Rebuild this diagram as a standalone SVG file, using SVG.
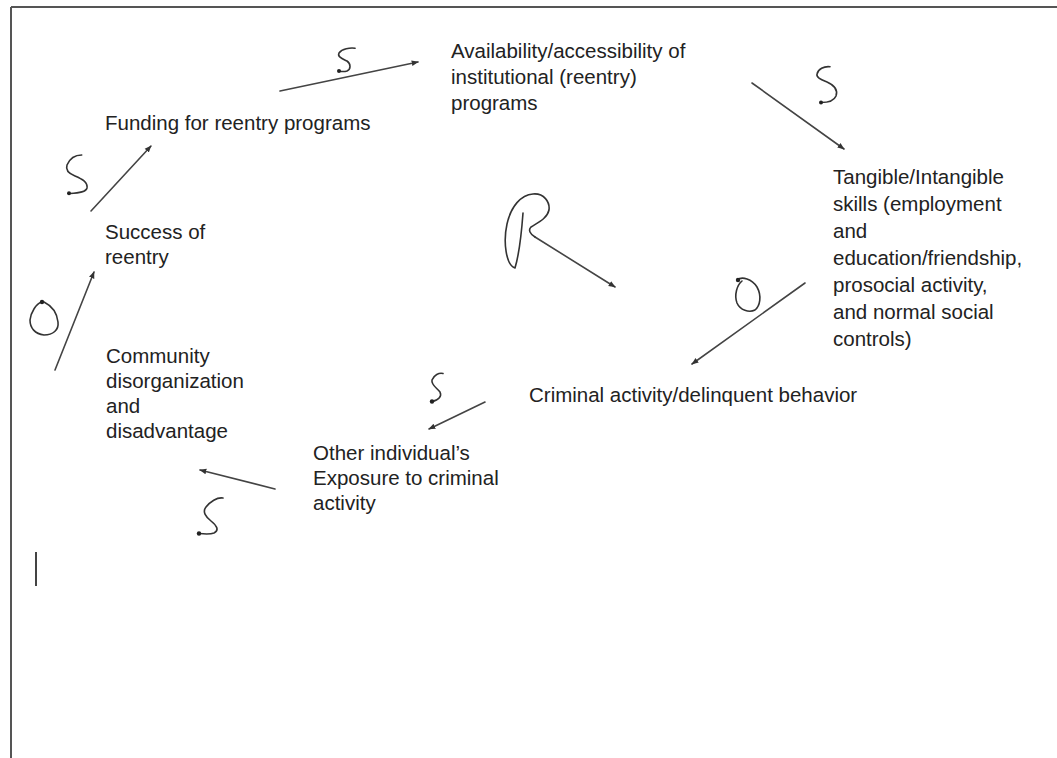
<svg xmlns="http://www.w3.org/2000/svg" width="1057" height="758" viewBox="0 0 1057 758">
<style>
text{font-family:"Liberation Sans",Arial,sans-serif;font-size:20.5px;fill:#222}
.c{fill:none;stroke:#444;stroke-width:1.6;stroke-linecap:round}
.h{fill:none;stroke:#333;stroke-width:1.6;stroke-linecap:round;stroke-linejoin:round}
.d{fill:#222}
</style>
<defs>
<marker id="ah" viewBox="0 0 10 10" refX="9" refY="5" markerWidth="7" markerHeight="7" markerUnits="userSpaceOnUse" orient="auto">
<path d="M0,1 L10,5 L0,9 Z" fill="#333"/>
</marker>
</defs>
<rect width="1057" height="758" fill="#fff"/>
<g id="frame">
<path d="M11,7 H1057 M11,7 V758" fill="none" stroke="#555" stroke-width="2"/>
<path d="M36,552 V586" stroke="#444" stroke-width="2"/>
</g>
<g id="availability">
<text x="451" y="58">Availability/accessibility of</text>
<text x="451" y="84">institutional (reentry)</text>
<text x="451" y="110">programs</text>
</g>
<g id="funding"><text x="105" y="130">Funding for reentry programs</text></g>
<g id="tangible">
<text x="833" y="184">Tangible/Intangible</text>
<text x="833" y="211">skills (employment</text>
<text x="833" y="238">and</text>
<text x="833" y="265">education/friendship,</text>
<text x="833" y="292">prosocial activity,</text>
<text x="833" y="319">and normal social</text>
<text x="833" y="346">controls)</text>
</g>
<g id="success">
<text x="105" y="239">Success of</text>
<text x="105" y="264">reentry</text>
</g>
<g id="community">
<text x="106" y="363">Community</text>
<text x="106" y="388">disorganization</text>
<text x="106" y="413">and</text>
<text x="106" y="438">disadvantage</text>
</g>
<g id="criminal"><text x="529" y="402">Criminal activity/delinquent behavior</text></g>
<g id="exposure">
<text x="313" y="460">Other individual’s</text>
<text x="313" y="485">Exposure to criminal</text>
<text x="313" y="510">activity</text>
</g>
<g id="connectors">
<line class="c" x1="91" y1="211" x2="151" y2="146" marker-end="url(#ah)"/>
<line class="c" x1="280" y1="91" x2="418" y2="62" marker-end="url(#ah)"/>
<line class="c" x1="752" y1="83" x2="844" y2="149" marker-end="url(#ah)"/>
<path class="c" d="M535,237 L615,287" marker-end="url(#ah)"/>
<line class="c" x1="805" y1="283" x2="692" y2="364" marker-end="url(#ah)"/>
<line class="c" x1="485" y1="402" x2="429" y2="429" marker-end="url(#ah)"/>
<line class="c" x1="275" y1="489" x2="200" y2="470" marker-end="url(#ah)"/>
<line class="c" x1="55" y1="370" x2="94" y2="272" marker-end="url(#ah)"/>
</g>
<g id="labels">
<path class="h" d="M81.7,155 C76,155 70,158 67,165 C65,171 70,174 75,176 C82,179 88,182 87,188 C86,192 80,193 70,193.5"/>
<circle class="d" cx="69" cy="193.3" r="2"/>
<path class="h" d="M355,48.3 C350,47.5 342,49 339,53 C337,57 343,59 347,61 C351,64 351,69 347,71 C344,72 341,71.5 339,71"/>
<circle class="d" cx="339" cy="71" r="2"/>
<path class="h" d="M830,66.7 C824,66 818,69 817,74 C816,78 822,80 827,82 C834,85 838,90 836,96 C834,101 828,102.5 821,102.5"/>
<circle class="d" cx="821" cy="102.5" r="2"/>
<path class="h" d="M523,213 C521,240 518,258 515,268 C506,265 503,242 507,224 C511,206 521,195 533,194 C544,193 550,202 549,210 C547,219 537,223 531,227 C528,230 530,234 535,237"/>
<path class="h" d="M737,280 C742,276 752,279 757,287 C762,296 760,306 755,310 C749,313 740,310 737,303 C734,295 737,285 742,281"/>
<circle class="d" cx="738" cy="280" r="2.2"/>
<path class="h" d="M443,373.5 C439,372.5 434,375 432,380 C431,385 437,388 440,392 C442,396 439,400 432,401.5"/>
<circle class="d" cx="432" cy="401.5" r="2.2"/>
<path class="h" d="M223,498 C217,497 210,502 206,507 C202,512 206,517 211,521 C216,525 220,530 214,533 C210,534.5 204,534 199,533.5"/>
<circle class="d" cx="199" cy="533.5" r="2.2"/>
<path class="h" d="M41.7,301.7 C36,304 31,312 30,320 C30,328 35,334 44,335 C53,335 59,330 58,322 C57,313 52,306 44,302"/>
<circle class="d" cx="42" cy="302" r="2.2"/>
</g>
</svg>
